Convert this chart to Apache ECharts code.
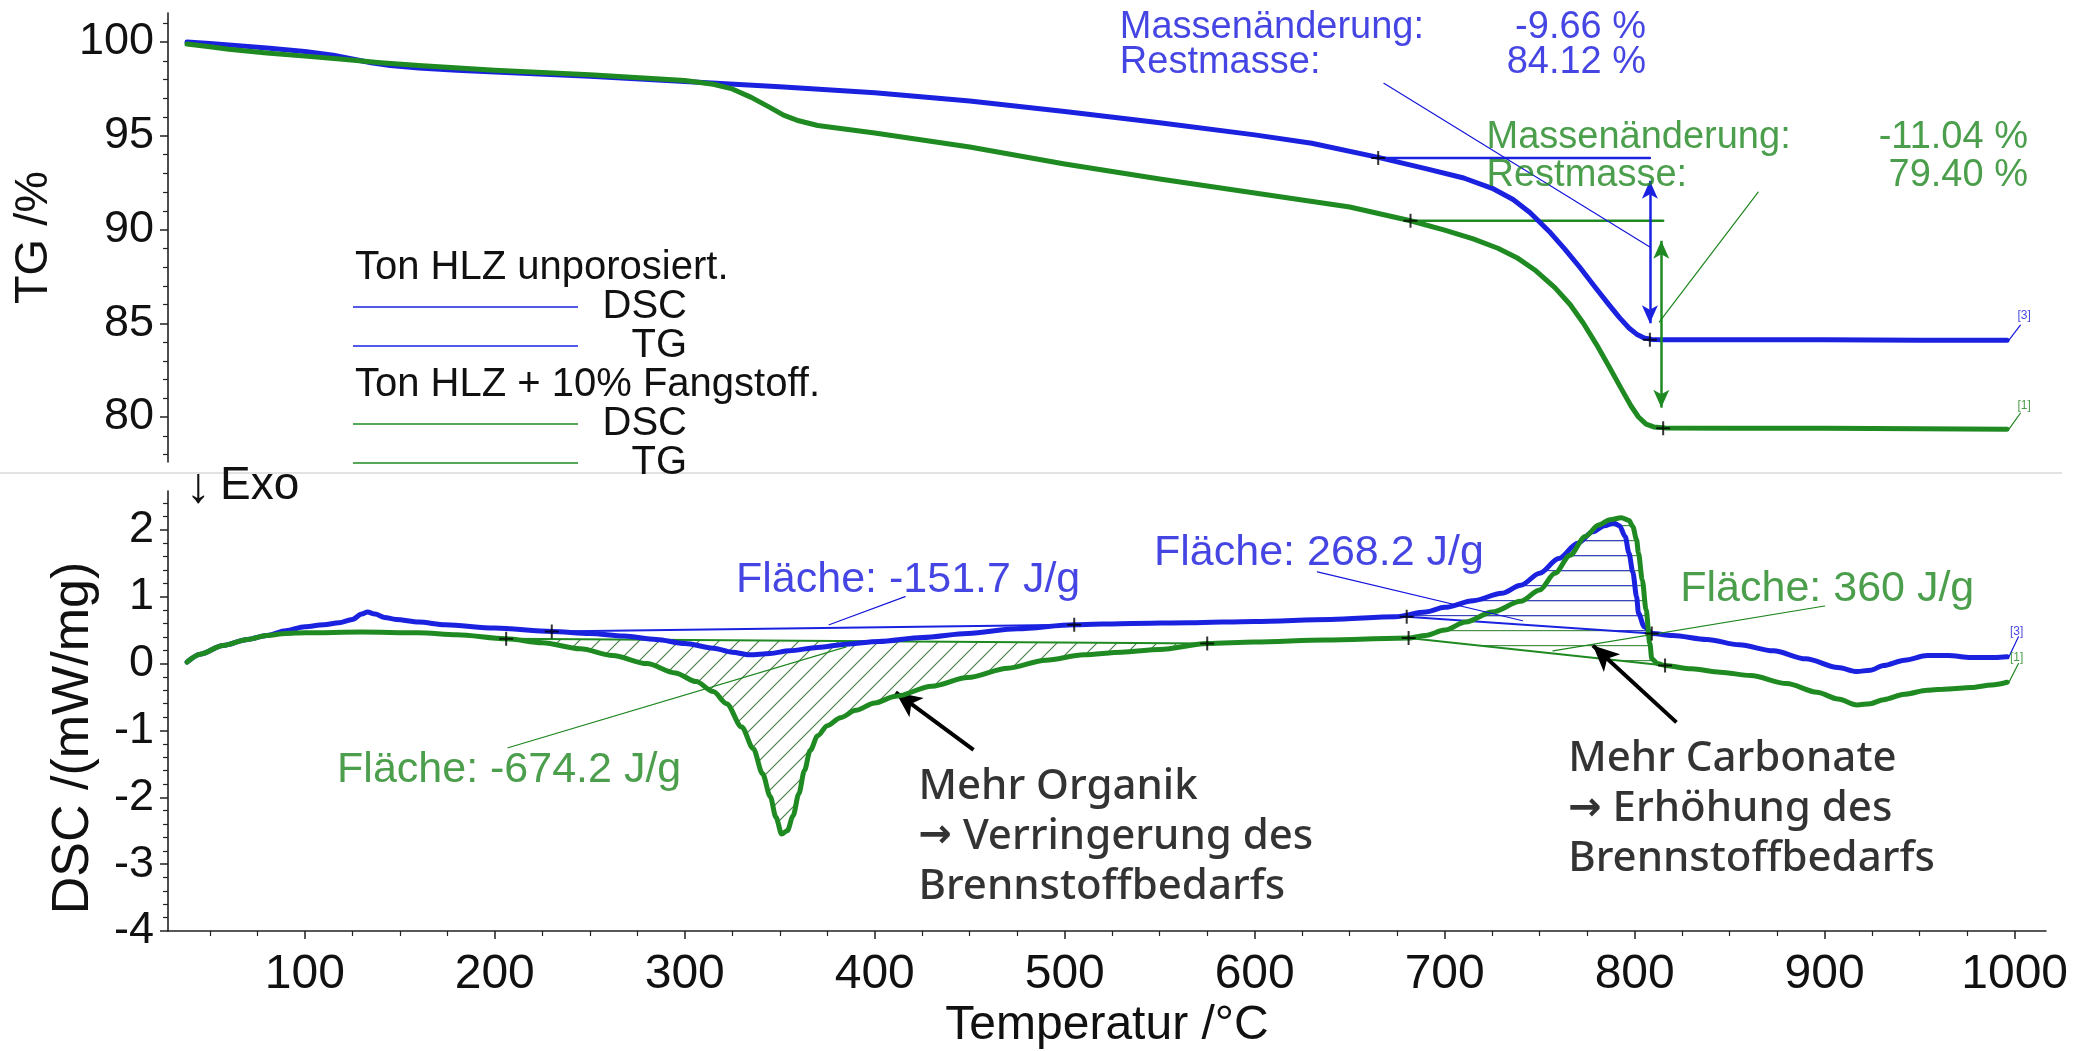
<!DOCTYPE html>
<html><head><meta charset="utf-8">
<script src="https://cdn.jsdelivr.net/npm/echarts@6/dist/echarts.min.js"></script>
<style>html,body{margin:0;padding:0;background:#fff}#c{width:2089px;height:1051px}</style>
</head><body><div id="c"></div>
<script>
// ---------------- DATA ----------------
const tempTicks = [100,200,300,400,500,600,700,800,900,1000];
const tgTicks = [80,85,90,95,100];
const dscTicks = [-4,-3,-2,-1,0,1,2];

// TG curves [T, %]
const tgBlue = [[38,100.0],[50,99.92],[60,99.85],[80,99.68],[100,99.5],[115,99.3],[125,99.1],[135,98.9],[145,98.75],[160,98.62],[180,98.5],[200,98.4],[250,98.17],[300,97.9],[350,97.62],[400,97.3],[450,96.85],[500,96.3],[550,95.7],[600,95.05],[630,94.6],[665,93.85],[690,93.25],[710,92.75],[725,92.2],[736,91.6],[745,90.9],[755,89.9],[763,88.98],[771,88.0],[779,86.95],[786,86.05],[792,85.3],[797,84.75],[801,84.42],[805,84.22],[809,84.14],[815,84.12],[850,84.12],[900,84.12],[950,84.1],[996,84.1]];
const tgGreen = [[38,99.9],[50,99.75],[60,99.62],[80,99.42],[100,99.25],[120,99.08],[140,98.9],[160,98.75],[200,98.5],[250,98.25],[300,97.95],[315,97.75],[325,97.5],[335,97.05],[345,96.5],[352,96.1],[360,95.8],[370,95.55],[385,95.35],[400,95.15],[450,94.4],[500,93.5],[550,92.7],[600,91.95],[650,91.2],[682,90.47],[700,89.97],[715,89.5],[728,89.0],[738,88.5],[748,87.8],[758,86.9],[766,86.0],[773,85.0],[780,83.85],[787,82.6],[793,81.5],[798,80.6],[802,80.0],[806,79.62],[810,79.47],[816,79.42],[850,79.4],[900,79.4],[950,79.38],[996,79.35]];

// DSC curves [T, mW/mg]
const dscBlue = [[38,0.02],[45,0.14],[57,0.27],[70,0.36],[80,0.42],[90,0.49],[100,0.55],[110,0.58],[118,0.61],[125,0.66],[130,0.74],[133,0.77],[137,0.74],[142,0.69],[148,0.66],[160,0.62],[174,0.58],[200,0.53],[230,0.48],[250,0.45],[268,0.41],[285,0.36],[300,0.30],[315,0.23],[325,0.17],[334,0.13],[345,0.15],[355,0.19],[370,0.24],[385,0.29],[402,0.33],[425,0.39],[449,0.45],[475,0.52],[505,0.58],[535,0.60],[566,0.61],[600,0.63],[640,0.66],[674,0.70],[690,0.77],[700,0.84],[715,0.94],[730,1.05],[740,1.17],[750,1.35],[760,1.57],[770,1.80],[778,1.97],[784,2.06],[789,2.10],[792,2.06],[795,1.90],[797,1.65],[799,1.37],[801,1.00],[802,0.75],[805,0.55],[809,0.45],[820,0.42],[838,0.36],[855,0.28],[873,0.19],[890,0.07],[907,-0.06],[917,-0.12],[924,-0.10],[931,-0.03],[942,0.05],[954,0.12],[965,0.12],[977,0.09],[990,0.09],[996,0.10]];
const dscGreen = [[38,0.02],[45,0.14],[57,0.27],[70,0.36],[80,0.42],[90,0.45],[100,0.46],[130,0.47],[160,0.46],[180,0.43],[206,0.37],[225,0.31],[245,0.22],[262,0.12],[280,0.00],[295,-0.14],[306,-0.27],[315,-0.42],[322,-0.60],[330,-0.95],[336,-1.27],[341,-1.65],[345,-1.99],[348,-2.30],[351,-2.55],[354,-2.50],[357,-2.28],[360,-1.95],[363,-1.60],[366,-1.30],[370,-1.08],[375,-0.93],[382,-0.81],[390,-0.70],[400,-0.59],[411,-0.49],[430,-0.34],[449,-0.21],[470,-0.07],[490,0.05],[510,0.13],[530,0.17],[550,0.21],[575,0.30],[600,0.32],[637,0.35],[681,0.38],[690,0.42],[700,0.50],[711,0.62],[725,0.77],[740,0.93],[750,1.10],[758,1.35],[766,1.62],[774,1.90],[781,2.07],[787,2.15],[793,2.18],[797,2.14],[799,2.05],[801,1.85],[802,1.65],[804,1.25],[806,0.80],[808,0.30],[809,0.07],[812,0.00],[816,-0.03],[830,-0.08],[845,-0.13],[861,-0.18],[880,-0.30],[896,-0.43],[907,-0.53],[917,-0.62],[924,-0.60],[931,-0.54],[942,-0.46],[954,-0.40],[965,-0.38],[977,-0.36],[988,-0.32],[996,-0.28]];

// Evaluation points / baselines
const blueBase1 = [[230,0.48],[505,0.58]];
const greenBase1 = [[206,0.37],[575,0.30]];
const blueBase2 = [[680,0.70],[809,0.45]];
const greenBase2 = [[681,0.38],[816,-0.03]];
const tgBlueStep = [[665,93.81],[808,93.81]];
const tgGreenStep = [[682,90.47],[815,90.47]];
const tgBlueArrow = [[808,92.6],[808,85.0]];
const tgGreenArrow = [[814,89.4],[814,80.5]];
const tgMarksBlue = [[665,93.81],[808,84.12]];
const tgMarksGreen = [[682,90.47],[815,79.40]];
const dscMarksBlue = [[230,0.48],[505,0.58],[680,0.70],[809,0.45]];
const dscMarksGreen = [[206,0.37],[575,0.30],[681,0.38],[816,-0.03]];
const massBlue = {change:'-9.66 %', rest:'84.12 %'};
const massGreen = {change:'-11.04 %', rest:'79.40 %'};
const areaTexts = {b1:'Fläche: -151.7 J/g', b2:'Fläche: 268.2 J/g', g1:'Fläche: -674.2 J/g', g2:'Fläche: 360 J/g'};
const legendGroups = [
  {title:'Ton HLZ unporosiert.', key:'blue', items:['DSC','TG']},
  {title:'Ton HLZ + 10% Fangstoff.', key:'green', items:['DSC','TG']}
];
const axisTitles = {x:'Temperatur /°C', tg:'TG /%', dsc:'DSC /(mW/mg)'};

// ---------------- STYLE / LAYOUT ----------------
const BLUE='#1a22e0', GREEN='#1f8a22', BTXT='#1616dc', GTXT='#1e861e';
const FONT='Liberation Sans, Arial, sans-serif';
const T_MIN=28, T_MAX=1016.5;
const COL = {blue:BLUE, green:GREEN};

const ann = {
  massB:[529,100.8,806,98.9], massG:[722,94.93,1007,92.9],
  leaderTG:[ {c:BTXT,p:[[668,97.8],[808,89.07]]}, {c:GTXT,p:[[865,92.0],[813,85.07]]},
             {c:BTXT,p:[[997,84.1],[1003,84.9]]}, {c:GTXT,p:[[997,79.35],[1003,80.2]]} ],
  leaderDSC:[ {c:BTXT,p:[[416,1.0],[376,0.58]]}, {c:BTXT,p:[[633,1.37],[741,0.64]]},
              {c:GTXT,p:[[900,0.86],[757,0.19]]}, {c:GTXT,p:[[207,-1.26],[385,0.25]]},
              {c:BTXT,p:[[997,0.10],[1002,0.40]]}, {c:GTXT,p:[[997,-0.28],[1002,0.0]]} ],
  arrows:[ [[452,-1.29],[411,-0.43]], [[822,-0.88],[778,0.27]] ]
};

function minorList(lo,hi,step,majors){const r=[];for(let v=lo;v<=hi+1e-9;v+=step){const x=Math.round(v*100)/100;if(!majors.some(m=>Math.abs(m-x)<1e-6))r.push(x);}return r;}
function interp(curve,t){for(let i=1;i<curve.length;i++){if(curve[i][0]>=t){const a=curve[i-1],b=curve[i];return a[1]+(b[1]-a[1])*(t-a[0])/(b[0]-a[0]);}}return curve[curve.length-1][1];}
function areaPoly(curve,base){const [t1,v1]=base[0],[t2,v2]=base[1];const pts=[[t1,interp(curve,t1)]];curve.forEach(p=>{if(p[0]>t1&&p[0]<t2)pts.push(p);});pts.push([t2,interp(curve,t2)]);pts.push([t2,v2]);pts.push([t1,v1]);return pts;}

function hatch(kind,color,gap){const c=document.createElement('canvas');const ctx=c.getContext('2d');
  if(kind==='diag'){c.width=gap;c.height=gap;ctx.strokeStyle=color;ctx.lineWidth=1.2;ctx.beginPath();
    ctx.moveTo(0,gap);ctx.lineTo(gap,0);ctx.moveTo(-2,2);ctx.lineTo(2,-2);ctx.moveTo(gap-2,gap+2);ctx.lineTo(gap+2,gap-2);ctx.stroke();}
  else {c.width=10;c.height=gap;ctx.fillStyle=color;ctx.fillRect(0,0,10,1.2);}
  return c;}

const chart = echarts.init(document.getElementById('c'));

function hatchSeries(curve,base,kind,color,gap){
  const poly=areaPoly(curve,base); const img=hatch(kind,color,gap);
  return {type:'custom',xAxisIndex:1,yAxisIndex:2,silent:true,z:1,data:[[500,0]],
    renderItem:(params,api)=>({type:'polygon',shape:{points:poly.map(p=>api.coord(p))},
      style:{fill:{type:'pattern',image:img,repeat:'repeat'},stroke:null}})};
}
function lineSeries(data,color,width,xi,yi,z,extra){
  return Object.assign({type:'line',xAxisIndex:xi,yAxisIndex:yi,data:data,showSymbol:false,symbol:'none',
    lineStyle:{color:color,width:width,join:'round',cap:'round'},itemStyle:{color:color},silent:true,z:z||2,animation:false},extra||{});
}
function markSeries(data,xi,yi){
  return {type:'scatter',xAxisIndex:xi,yAxisIndex:yi,data:data,symbol:'path://M0,5L10,5M5,0L5,10',symbolSize:14,
    itemStyle:{color:'none',borderColor:'#000',borderWidth:2},silent:true,z:8};
}
function txt(t,v,text,color,size,align,vAlign,family,lh,weight,rich){
  const l={show:true,position:'inside',formatter:text,color:color,fontSize:size,align:align||'left',
    verticalAlign:vAlign||'middle',fontFamily:family||FONT,lineHeight:lh||size*1.2,fontWeight:weight||'normal'};
  if(rich) l.rich=rich;
  return {value:[t,v],label:l};
}
function textSeries(items,xi,yi){
  return {type:'scatter',xAxisIndex:xi,yAxisIndex:yi,data:items,symbolSize:1,itemStyle:{color:'rgba(0,0,0,0)'},silent:true,z:10};
}
const arrowRich={a:{fontFamily:'DejaVu Sans',fontWeight:'bold',fontSize:40,lineHeight:50,color:'#000'}};

const series=[];
series.push(hatchSeries(dscGreen,greenBase1,'diag','#4a7f4a',20));
series.push(hatchSeries(dscGreen,greenBase2,'horiz','#4a8f4a',15));
series.push(hatchSeries(dscBlue,blueBase2,'horiz','#3a44c0',15));
series.push(lineSeries(dscBlue,BLUE,5,1,2,4,{smooth:0.3,smoothMonotone:'x'}));
series.push(lineSeries(dscGreen,GREEN,5,1,2,5,{smooth:0.3,smoothMonotone:'x'}));
series.push(lineSeries(blueBase1,BLUE,2,1,2,3));
series.push(lineSeries(blueBase2,BLUE,2,1,2,3));
series.push(lineSeries(greenBase1,GREEN,2,1,2,3));
series.push(lineSeries(greenBase2,GREEN,2,1,2,3));
series.push(lineSeries(tgBlue,BLUE,5,0,0,4,{smooth:false}));
series.push(lineSeries(tgGreen,GREEN,5,0,0,5,{smooth:false}));
function arrowML(pts,color,sym){return {silent:true,animation:false,symbol:sym,symbolSize:[12,18],label:{show:false},
  lineStyle:{color:color,width:2.5,type:'solid'},data:[[{coord:pts[0]},{coord:pts[1]}]]};}
series.push(lineSeries(tgBlueStep,BLUE,2.5,0,0,3,{markLine:arrowML(tgBlueArrow,BLUE,['arrow','arrow'])}));
series.push(lineSeries(tgGreenStep,GREEN,2.5,0,0,3,{markLine:arrowML(tgGreenArrow,GREEN,['arrow','arrow'])}));
ann.leaderTG.forEach(l=>series.push(lineSeries(l.p,l.c,1.2,0,0,6)));
ann.leaderDSC.forEach(l=>series.push(lineSeries(l.p,l.c,1.2,1,2,6)));
ann.arrows.forEach(a=>series.push(lineSeries(a,'rgba(0,0,0,0)',0,1,2,7,{markLine:{silent:true,animation:false,symbol:['none','arrow'],symbolSize:[18,26],label:{show:false},lineStyle:{color:'#000',width:4,type:'solid'},data:[[{coord:a[0]},{coord:a[1]}]]}})));
series.push(markSeries(tgMarksBlue.concat(tgMarksGreen),0,0));
series.push(markSeries(dscMarksBlue.concat(dscMarksGreen),1,2));
series.push(textSeries([
  txt(ann.massB[0],ann.massB[1],'Massenänderung:',BTXT,38),
  txt(ann.massB[2],ann.massB[1],massBlue.change,BTXT,38,'right'),
  txt(ann.massB[0],ann.massB[3],'Restmasse:',BTXT,38),
  txt(ann.massB[2],ann.massB[3],massBlue.rest,BTXT,38,'right'),
  txt(ann.massG[0],ann.massG[1],'Massenänderung:',GTXT,38),
  txt(ann.massG[2],ann.massG[1],massGreen.change,GTXT,38,'right'),
  txt(ann.massG[0],ann.massG[3],'Restmasse:',GTXT,38),
  txt(ann.massG[2],ann.massG[3],massGreen.rest,GTXT,38,'right'),
  txt(1005,85.4,'[3]',BTXT,12,'center'),
  txt(1005,80.6,'[1]',GTXT,12,'center')
],0,0));
series.push(textSeries([
  txt(327,1.25,areaTexts.b1,BTXT,43),
  txt(547,1.65,areaTexts.b2,BTXT,43),
  txt(824,1.11,areaTexts.g2,GTXT,43),
  txt(117,-1.59,areaTexts.g1,GTXT,43),
  txt(423,-1.47,'Mehr Organik\n{a|→} Verringerung des\nBrennstoffbedarfs','#000',42,'left','top','Noto Sans',50,500,arrowRich),
  txt(765,-1.06,'Mehr Carbonate\n{a|→} Erhöhung des\nBrennstoffbedarfs','#000',42,'left','top','Noto Sans',50,500,arrowRich),
  txt(1001,0.48,'[3]',BTXT,12,'center'),
  txt(1001,0.08,'[1]',GTXT,12,'center')
],1,2));

const graphic=[{type:'line',shape:{x1:0,y1:473,x2:2062,y2:473},style:{stroke:'#e2e2e2',lineWidth:2},z:-1}];
let ly=268;
legendGroups.forEach(g=>{
  graphic.push({type:'text',x:355,y:ly,style:{text:g.title,font:'40px '+FONT,fill:'#111',textVerticalAlign:'middle'},z:20});
  ly+=39;
  g.items.forEach(it=>{
    graphic.push({type:'line',shape:{x1:353,y1:ly,x2:578,y2:ly},style:{stroke:COL[g.key],lineWidth:1.6},z:20});
    graphic.push({type:'text',x:687,y:ly,style:{text:it,font:'40px '+FONT,fill:'#111',textAlign:'right',textVerticalAlign:'middle'},z:20});
    ly+=39;
  });
});
graphic.push({type:'text',x:186,y:488,style:{text:'↓',font:'50px '+FONT,fill:'#111',textVerticalAlign:'middle'},z:20});
graphic.push({type:'text',x:220,y:486,style:{text:'Exo',font:'46px '+FONT,fill:'#111',textVerticalAlign:'middle'},z:20});
graphic.push({type:'text',x:74,y:738,rotation:Math.PI/2,style:{text:axisTitles.dsc,font:'52px '+FONT,fill:'#111',textAlign:'center',textVerticalAlign:'middle'},z:20});

const plain = v => String(v);
const option={
  animation:false,
  graphic:graphic,
  grid:[{left:168,right:43,top:13,height:449},{left:168,right:43,top:491,height:446}],
  xAxis:[
    {gridIndex:0,type:'value',min:T_MIN,max:T_MAX,show:false},
    {gridIndex:1,type:'value',min:T_MIN,max:T_MAX,position:'bottom',axisLine:{onZero:false,lineStyle:{color:'#222',width:1.6}},splitLine:{show:false},
      axisTick:{customValues:tempTicks,length:8,lineStyle:{color:'#222',width:1.5}},
      axisLabel:{customValues:tempTicks,formatter:plain,fontSize:48,color:'#111',fontFamily:FONT,margin:20},
      name:axisTitles.x,nameLocation:'middle',nameGap:71,nameTextStyle:{fontSize:48,color:'#111',fontFamily:FONT}},
    {gridIndex:1,type:'value',min:T_MIN,max:T_MAX,position:'bottom',axisLine:{show:false,onZero:false},splitLine:{show:false},
      axisTick:{customValues:minorList(50,1000,25,tempTicks),length:5,lineStyle:{color:'#222',width:1.2}},axisLabel:{show:false}}
  ],
  yAxis:[
    {gridIndex:0,type:'value',min:77.6,max:101.55,position:'left',axisLine:{show:true,onZero:false,lineStyle:{color:'#222',width:1.6}},splitLine:{show:false},
      axisTick:{show:true,customValues:tgTicks,length:8,lineStyle:{color:'#222',width:1.5}},
      axisLabel:{customValues:tgTicks,formatter:plain,fontSize:45,color:'#111',fontFamily:FONT,margin:14},
      name:axisTitles.tg,nameLocation:'middle',nameRotate:90,nameGap:110,nameTextStyle:{fontSize:47,color:'#111',fontFamily:FONT}},
    {gridIndex:0,type:'value',min:77.6,max:101.55,position:'left',axisLine:{show:false,onZero:false},splitLine:{show:false},
      axisTick:{show:true,customValues:minorList(78,101,1,tgTicks),length:5,lineStyle:{color:'#222',width:1.2}},axisLabel:{show:false}},
    {gridIndex:1,type:'value',min:-4,max:2.58,position:'left',axisLine:{show:true,onZero:false,lineStyle:{color:'#222',width:1.6}},splitLine:{show:false},
      axisTick:{show:true,customValues:dscTicks,length:8,lineStyle:{color:'#222',width:1.5}},
      axisLabel:{customValues:dscTicks,formatter:plain,fontSize:45,color:'#111',fontFamily:FONT,margin:14}},
    {gridIndex:1,type:'value',min:-4,max:2.58,position:'left',axisLine:{show:false,onZero:false},splitLine:{show:false},
      axisTick:{show:true,customValues:minorList(-3.8,2.4,0.2,dscTicks),length:5,lineStyle:{color:'#222',width:1.2}},axisLabel:{show:false}}
  ],
  series:series
};
chart.setOption(option);
</script></body></html>
